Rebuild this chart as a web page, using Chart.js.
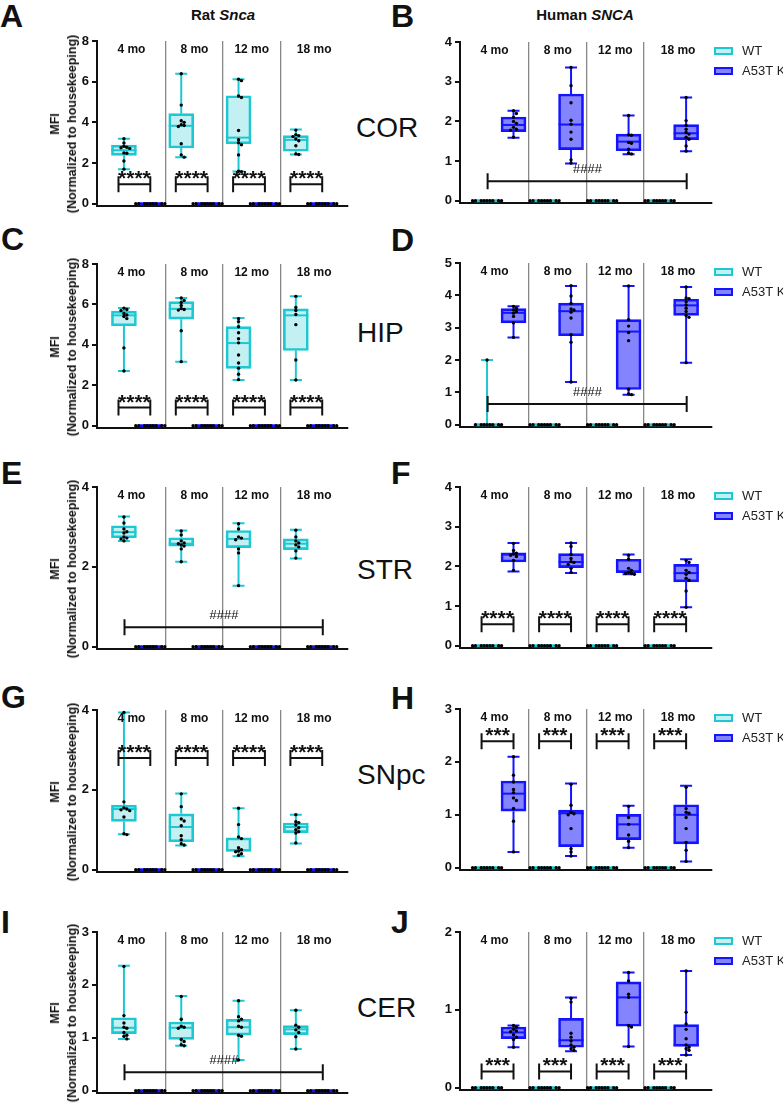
<!DOCTYPE html>
<html>
<head>
<meta charset="utf-8">
<script src="https://cdn.jsdelivr.net/npm/chart.js@4.4.1/dist/chart.umd.min.js"></script>
<style>
  body { margin: 0; background: #fff; }
  #fig { position: relative; width: 783px; height: 1114px; overflow: hidden; font-family: Arial, "Liberation Sans", sans-serif; color: #111; }
  .t { position: absolute; white-space: nowrap; line-height: 1; }
  .letter { font-weight: bold; font-size: 32px; }
  .region { font-size: 28px; }
  .head { font-weight: bold; font-size: 15px; transform: translateX(-50%); }
  .ytitle { position: absolute; font-weight: bold; font-size: 12.5px; text-align: center; line-height: 17px;
            white-space: nowrap; transform: translate(-50%, -50%) rotate(-90deg); }
  canvas { position: absolute; }
</style>
</head>
<body>
<div id="fig">
  <div class="t head" style="left:223px; top:7px">Rat <i>Snca</i></div>
  <div class="t head" style="left:585px; top:7px">Human <i>SNCA</i></div>

  <div class="t letter" style="left:0px; top:0px">A</div>
  <div class="t letter" style="left:391px; top:0px">B</div>
  <div class="t letter" style="left:1px; top:223px">C</div>
  <div class="t letter" style="left:391px; top:224px">D</div>
  <div class="t letter" style="left:1px; top:457px">E</div>
  <div class="t letter" style="left:391px; top:457px">F</div>
  <div class="t letter" style="left:1px; top:681px">G</div>
  <div class="t letter" style="left:391px; top:682px">H</div>
  <div class="t letter" style="left:1px; top:906px">I</div>
  <div class="t letter" style="left:391px; top:906px">J</div>

  <div class="t region" style="left:356px; top:114px">COR</div>
  <div class="t region" style="left:357px; top:319px">HIP</div>
  <div class="t region" style="left:357px; top:556px">STR</div>
  <div class="t region" style="left:357px; top:761px">SNpc</div>
  <div class="t region" style="left:357px; top:994px">CER</div>
</div>

<script>
Chart.defaults.font.family = 'Arial, "Liberation Sans", sans-serif';
Chart.defaults.color = '#111';

// ---- data ----
const ages = ['4 mo', '8 mo', '12 mo', '18 mo'];
const groups = ['WT', 'A53T KI'];

// box stats per age: [min, q1, median, q3, max]
const zeroBox = [0, 0, 0, 0, 0];
const zeroRow = [0, 0, 0, 0, 0, 0, 0, 0, 0];

const ticks8 = [0, 2, 4, 6, 8];
const ticks4by2 = [0, 2, 4];
const ticks4 = [0, 1, 2, 3, 4];
const ticks5 = [0, 1, 2, 3, 4, 5];
const ticks3 = [0, 1, 2, 3];
const ticks2 = [0, 1, 2];

// COR
const corRatWT = [[1.70, 2.38, 2.63, 2.88, 3.20], [2.29, 2.74, 3.83, 4.43, 6.39], [1.58, 2.95, 3.25, 5.31, 6.12], [2.42, 2.58, 3.14, 3.35, 3.65]];
const corRatWTPts = [
  [3.2, 2.99, 2.83, 2.78, 2.75, 2.72, 2.5, 2.48, 2.1, 1.7],
  [6.39, 4.85, 4.08, 4.0, 3.88, 3.85, 3.8, 2.95, 2.4, 2.29],
  [6.12, 6.05, 5.3, 5.22, 3.6, 3.15, 3.0, 2.9, 2.4, 1.6, 1.58],
  [3.62, 3.4, 3.35, 3.3, 3.18, 3.1, 2.85, 2.45, 2.42]];
const corHumKI = [[1.59, 1.74, 1.91, 2.11, 2.27], [0.94, 1.29, 1.92, 2.69, 3.36], [1.17, 1.26, 1.49, 1.68, 2.15], [1.25, 1.54, 1.70, 1.92, 2.60]];
const corHumKIPts = [
  [2.27, 2.2, 2.1, 2.0, 1.95, 1.85, 1.8, 1.78, 1.6],
  [3.36, 2.9, 2.47, 2.03, 1.93, 1.73, 1.55, 1.03, 0.95],
  [2.15, 1.66, 1.65, 1.47, 1.45, 1.3, 1.2, 1.18],
  [2.6, 2.02, 1.9, 1.8, 1.72, 1.68, 1.6, 1.55, 1.38, 1.25]];

// HIP
const hipRatWT = [[2.71, 4.94, 5.46, 5.67, 5.82], [3.17, 5.27, 5.78, 6.14, 6.32], [2.26, 2.84, 4.09, 4.90, 5.33], [2.26, 3.72, 5.46, 5.78, 6.40]];
const hipRatWTPts = [
  [5.82, 5.75, 5.7, 5.55, 5.48, 5.4, 5.3, 3.85, 2.71],
  [6.32, 6.2, 6.1, 5.95, 5.8, 5.75, 5.72, 4.7, 3.17],
  [5.3, 5.15, 4.9, 4.6, 4.3, 4.1, 3.5, 3.1, 2.85, 2.55, 2.28],
  [6.4, 5.85, 5.7, 5.5, 5.0, 3.25, 2.26]];
const hipHumWT = [[0, 0, 0, 0, 2.0], zeroBox, zeroBox, zeroBox];
const hipHumWTPts = [[2.0, 0, 0, 0, 0, 0, 0, 0, 0], zeroRow, zeroRow, zeroRow];
const hipHumKI = [[2.70, 3.15, 3.46, 3.59, 3.66], [1.32, 2.75, 3.51, 3.76, 4.29], [0.93, 1.09, 2.88, 3.25, 4.29], [1.92, 3.38, 3.69, 3.88, 4.26]];
const hipHumKIPts = [
  [3.66, 3.6, 3.55, 3.5, 3.45, 3.35, 3.15, 2.7],
  [4.3, 3.98, 3.75, 3.58, 3.55, 3.48, 3.3, 2.78, 2.55, 1.32],
  [4.29, 3.25, 3.05, 2.85, 2.6, 1.1, 0.95, 0.93],
  [4.26, 3.92, 3.9, 3.8, 3.7, 3.6, 3.5, 3.38, 3.32, 1.92]];

// STR
const strRatWT = [[2.65, 2.73, 2.87, 3.03, 3.26], [2.13, 2.52, 2.58, 2.73, 2.91], [1.53, 2.48, 2.70, 2.91, 3.09], [2.21, 2.43, 2.58, 2.70, 2.93]];
const strRatWTPts = [
  [3.25, 3.1, 2.95, 2.88, 2.85, 2.75, 2.72, 2.7, 2.65],
  [2.9, 2.8, 2.65, 2.6, 2.58, 2.55, 2.52, 2.45, 2.13],
  [3.08, 2.95, 2.75, 2.72, 2.68, 2.45, 2.35, 1.53],
  [2.92, 2.75, 2.65, 2.6, 2.55, 2.5, 2.4, 2.22]];
const strHumKI = [[1.87, 2.11, 2.30, 2.34, 2.59], [1.83, 1.97, 2.11, 2.32, 2.59], [1.80, 1.84, 1.87, 2.18, 2.30], [0.97, 1.61, 1.83, 2.05, 2.18]];
const strHumKIPts = [
  [2.58, 2.4, 2.33, 2.32, 2.28, 2.25, 2.15, 1.9],
  [2.59, 2.5, 2.3, 2.2, 2.12, 2.1, 2.05, 1.95, 1.85],
  [2.28, 2.18, 1.95, 1.9, 1.85, 1.82, 1.82, 1.8],
  [2.15, 2.1, 1.9, 1.85, 1.8, 1.7, 1.65, 1.38, 0.97]];

// SNpc
const snRatWT = [[0.89, 1.21, 1.52, 1.62, 3.94], [0.61, 0.70, 1.07, 1.40, 1.91], [0.34, 0.46, 0.49, 0.80, 1.54], [0.66, 0.93, 1.07, 1.17, 1.38]];
const snRatWTPts = [
  [3.94, 1.7, 1.55, 1.52, 1.5, 1.48, 1.32, 0.9, 0.88],
  [1.9, 1.58, 1.27, 1.22, 1.1, 0.85, 0.75, 0.65, 0.62],
  [1.54, 1.13, 0.82, 0.78, 0.55, 0.5, 0.47, 0.45, 0.4, 0.36],
  [1.38, 1.2, 1.18, 1.12, 1.05, 1.0, 0.95, 0.92, 0.67]];
const snHumKI = [[0.30, 1.07, 1.40, 1.64, 2.10], [0.22, 0.40, 1.03, 1.09, 1.59], [0.38, 0.53, 0.82, 1.01, 1.17], [0.12, 0.45, 1.00, 1.19, 1.55]];
const snHumKIPts = [
  [2.1, 1.75, 1.62, 1.48, 1.42, 1.32, 1.27, 1.12, 0.88, 0.3],
  [1.58, 1.18, 1.05, 1.02, 1.0, 0.74, 0.36, 0.3, 0.22],
  [1.16, 0.95, 0.82, 0.62, 0.5, 0.38],
  [1.52, 1.12, 1.05, 1.03, 0.95, 0.74, 0.48, 0.33, 0.12]];

// CER
const cerRatWT = [[0.98, 1.08, 1.19, 1.38, 2.36], [0.85, 0.97, 1.19, 1.30, 1.79], [0.58, 1.05, 1.20, 1.35, 1.70], [0.79, 1.06, 1.16, 1.23, 1.52]];
const cerRatWTPts = [
  [2.35, 1.42, 1.28, 1.2, 1.18, 1.1, 1.05, 1.03, 0.98],
  [1.78, 1.35, 1.22, 1.2, 1.18, 0.97, 0.93, 0.87, 0.85],
  [1.7, 1.4, 1.35, 1.32, 1.22, 1.2, 1.05, 1.03, 0.58],
  [1.52, 1.24, 1.2, 1.15, 1.1, 1.02, 0.79]];
const cerHumKI = [[0.52, 0.63, 0.71, 0.78, 0.80], [0.47, 0.52, 0.61, 0.89, 1.16], [0.53, 0.79, 1.16, 1.36, 1.48], [0.42, 0.53, 0.55, 0.81, 1.50]];
const cerHumKIPts = [
  [0.8, 0.78, 0.75, 0.73, 0.72, 0.68, 0.65, 0.62, 0.52],
  [1.15, 1.1, 0.7, 0.65, 0.6, 0.55, 0.52, 0.5, 0.48],
  [1.48, 1.37, 1.2, 1.16, 0.8, 0.78, 0.53],
  [1.5, 0.97, 0.82, 0.75, 0.63, 0.55, 0.52, 0.5, 0.48, 0.42]];

// the other genotype sits at zero in every panel
const zeroBoxes = [zeroBox, zeroBox, zeroBox, zeroBox];
const zeroRows = [zeroRow, zeroRow, zeroRow, zeroRow];

// where the significance marks sit (y value)
const corRatSig = 0.96, corHumSig = 0.49;
const hipRatSig = 0.90, hipHumSig = 0.64;
const strRatSig = 0.49, strHumSig = 0.54;
const snRatSig = 2.80, snHumSig = 2.39;
const cerRatSig = 0.35, cerHumSig = 0.21;

// ---- layout ----
const XMIN = -0.7, XMAX = 3.68, DX = 0.23, BOXW = 25;
const wtColor = '#1ec8d2', wtFill = 'rgba(30,200,210,0.27)';
const kiColor = '#1414ff', kiFill = 'rgba(20,20,255,0.52)';

const panels = [
  {col: 0, top: 41, zero: 207, ticks: ticks8, wt: corRatWT, wtPts: corRatWTPts, ki: zeroBoxes, kiPts: zeroRows, sig: {kind: 'pair', text: '****', at: corRatSig}},
  {col: 1, top: 42, zero: 204, ticks: ticks4, wt: zeroBoxes, wtPts: zeroRows, ki: corHumKI, kiPts: corHumKIPts, sig: {kind: 'span', text: '####', at: corHumSig}},
  {col: 0, top: 264, zero: 429, ticks: ticks8, wt: hipRatWT, wtPts: hipRatWTPts, ki: zeroBoxes, kiPts: zeroRows, sig: {kind: 'pair', text: '****', at: hipRatSig}},
  {col: 1, top: 263, zero: 428, ticks: ticks5, wt: hipHumWT, wtPts: hipHumWTPts, ki: hipHumKI, kiPts: hipHumKIPts, sig: {kind: 'span', text: '####', at: hipHumSig}},
  {col: 0, top: 487, zero: 650, ticks: ticks4by2, wt: strRatWT, wtPts: strRatWTPts, ki: zeroBoxes, kiPts: zeroRows, sig: {kind: 'span', text: '####', at: strRatSig}},
  {col: 1, top: 487, zero: 649, ticks: ticks4, wt: zeroBoxes, wtPts: zeroRows, ki: strHumKI, kiPts: strHumKIPts, sig: {kind: 'pair', text: '****', at: strHumSig}},
  {col: 0, top: 710, zero: 873, ticks: ticks4by2, wt: snRatWT, wtPts: snRatWTPts, ki: zeroBoxes, kiPts: zeroRows, sig: {kind: 'pair', text: '****', at: snRatSig}},
  {col: 1, top: 709, zero: 871, ticks: ticks3, wt: zeroBoxes, wtPts: zeroRows, ki: snHumKI, kiPts: snHumKIPts, sig: {kind: 'pair', text: '***', at: snHumSig}},
  {col: 0, top: 932, zero: 1094, ticks: ticks3, wt: cerRatWT, wtPts: cerRatWTPts, ki: zeroBoxes, kiPts: zeroRows, sig: {kind: 'span', text: '####', at: cerRatSig}},
  {col: 1, top: 932, zero: 1091, ticks: ticks2, wt: zeroBoxes, wtPts: zeroRows, ki: cerHumKI, kiPts: cerHumKIPts, sig: {kind: 'pair', text: '***', at: cerHumSig}}
];

// spread equal-ish values sideways like a column scatter
function swarm(vals, center, pxY, pxX) {
  const d = 2.9, placed = [];
  return vals.map(v => {
    const py = v * pxY;
    for (let k = 0; k < 40; k++) {
      const off = k === 0 ? 0 : (k % 2 ? 1 : -1) * Math.ceil(k / 2) * d;
      if (placed.every(p => Math.hypot(p.x - off, p.y - py) >= d)) {
        placed.push({x: off, y: py});
        return {x: center + off / pxX, y: v};
      }
    }
    return {x: center, y: v};
  });
}

const boxParts = {
  id: 'boxParts',
  afterDatasetDraw(chart, args) {
    const ds = chart.data.datasets[args.index];
    if (!ds.stats) return;
    const {x, y} = chart.scales;
    const ctx = chart.ctx;
    ctx.save();
    ctx.strokeStyle = ds.borderColor;
    ds.stats.forEach((s, i) => {
      const cx = x.getPixelForValue(ds.data[i].x);
      const [lo, q1, med, q3, hi] = s.map(v => y.getPixelForValue(v));
      ctx.lineWidth = 2;
      ctx.beginPath();
      ctx.moveTo(cx, lo); ctx.lineTo(cx, q1);
      ctx.moveTo(cx, q3); ctx.lineTo(cx, hi);
      ctx.moveTo(cx - 6, lo); ctx.lineTo(cx + 6, lo);
      ctx.moveTo(cx - 6, hi); ctx.lineTo(cx + 6, hi);
      ctx.stroke();
      ctx.lineWidth = q1 === q3 ? 3 : 2;
      ctx.beginPath();
      ctx.moveTo(cx - BOXW / 2, med); ctx.lineTo(cx + BOXW / 2, med);
      ctx.stroke();
    });
    ctx.restore();
  }
};

const annot = {
  id: 'annot',
  afterDraw(chart) {
    const o = chart.options.plugins.annot;
    const {x, y} = chart.scales;
    const a = chart.chartArea;
    const ctx = chart.ctx;
    ctx.save();
    // age headings, centred between dividers
    const edges = [XMIN, 0.5, 1.5, 2.5, XMAX];
    ctx.fillStyle = '#111';
    ctx.font = 'bold 12px Arial';
    ctx.textAlign = 'center';
    ctx.textBaseline = 'middle';
    ages.forEach((t, i) => ctx.fillText(t, x.getPixelForValue((edges[i] + edges[i + 1]) / 2), a.top + 9));

    // brackets
    ctx.strokeStyle = '#111';
    ctx.lineWidth = 2;
    const bracket = (x1, x2, v, text) => {
      const p1 = x.getPixelForValue(x1), p2 = x.getPixelForValue(x2), py = y.getPixelForValue(v);
      ctx.beginPath();
      ctx.moveTo(p1, py - 8); ctx.lineTo(p1, py + 8);
      ctx.moveTo(p2, py - 8); ctx.lineTo(p2, py + 8);
      ctx.moveTo(p1, py); ctx.lineTo(p2, py);
      ctx.stroke();
      const mid = (p1 + p2) / 2;
      if (text[0] === '*') {
        ctx.font = 'bold 21px Arial';
        ctx.textBaseline = 'alphabetic';
        ctx.fillText(text, mid, py + 1);
      } else {
        ctx.font = 'italic 13px Arial';
        ctx.textBaseline = 'middle';
        ctx.fillText(text, mid, py - 12);
      }
    };
    if (o.sig.kind === 'pair') {
      ages.forEach((_, i) => bracket(i - 0.325, i + DX, o.sig.at, o.sig.text));
    } else {
      bracket(-0.22, 3.24, o.sig.at, o.sig.text);
    }

    // legend
    if (o.legend) {
      const lx = a.right + 3;
      [[wtFill, wtColor], [kiFill, kiColor]].forEach(([f, c], k) => {
        const yy = a.top + 9 + k * 20;
        ctx.fillStyle = f;
        ctx.fillRect(lx, yy - 3, 17, 6);
        ctx.strokeStyle = c;
        ctx.lineWidth = 2;
        ctx.strokeRect(lx, yy - 3, 17, 6);
        ctx.fillStyle = '#222';
        ctx.font = '13px Arial';
        ctx.textAlign = 'left';
        ctx.textBaseline = 'middle';
        ctx.fillText(groups[k], lx + 27, yy);
      });
    }
    ctx.restore();
  }
};

const fig = document.getElementById('fig');

panels.forEach(p => {
  const left = p.col ? 420 : 40, width = p.col ? 363 : 320;
  const padL = p.col ? 8 : 25, padR = p.col ? 71 : 12;
  const yMax = p.ticks[p.ticks.length - 1];
  const pxY = (p.zero - p.top) / yMax;
  const pxX = (left + width - padR - (left + padL + 32)) / (XMAX - XMIN);
  const cTop = p.top - 16;
  const height = p.zero + 2.5 - cTop + 8;

  const cv = document.createElement('canvas');
  cv.width = width;
  cv.height = height;
  cv.style.left = left + 'px';
  cv.style.top = cTop + 'px';
  fig.appendChild(cv);

  if (!p.col) {
    const yt = document.createElement('div');
    yt.className = 'ytitle';
    yt.style.left = '63.5px';
    yt.style.top = ((p.top + p.zero) / 2) + 'px';
    yt.innerHTML = 'MFI<br>(Normalized to housekeeping)';
    fig.appendChild(yt);
  }

  const wtPts = p.wtPts.flatMap((vals, i) => swarm(vals, i - DX, pxY, pxX));
  const kiPts = p.kiPts.flatMap((vals, i) => swarm(vals, i + DX, pxY, pxX));

  new Chart(cv, {
    type: 'bar',
    data: {
      datasets: [
        {type: 'scatter', data: wtPts, order: 1, pointRadius: 1.7, pointHoverRadius: 1.7, backgroundColor: '#000', borderWidth: 0},
        {type: 'scatter', data: kiPts, order: 1, pointRadius: 1.7, pointHoverRadius: 1.7, backgroundColor: '#000', borderWidth: 0},
        {type: 'bar', label: groups[0], stats: p.wt, order: 2,
         data: p.wt.map((s, i) => ({x: i - DX, y: [s[1], s[3]]})),
         backgroundColor: wtFill, borderColor: wtColor, borderWidth: 2, borderSkipped: false,
         barThickness: BOXW, grouped: false},
        {type: 'bar', label: groups[1], stats: p.ki, order: 2,
         data: p.ki.map((s, i) => ({x: i + DX, y: [s[1], s[3]]})),
         backgroundColor: kiFill, borderColor: kiColor, borderWidth: 2, borderSkipped: false,
         barThickness: BOXW, grouped: false}
      ]
    },
    options: {
      responsive: false,
      animation: false,
      events: [],
      layout: {padding: {left: padL, right: padR, top: 16, bottom: 8}},
      plugins: {
        legend: {display: false},
        tooltip: {enabled: false},
        annot: {sig: p.sig, legend: p.col === 1}
      },
      scales: {
        x: {
          type: 'linear', min: XMIN, max: XMAX, offset: false,
          afterBuildTicks: s => { s.ticks = [0.5, 1.5, 2.5].map(v => ({value: v})); },
          afterFit: s => { s.height = 0; },
          border: {display: true, color: '#111', width: 2},
          grid: {offset: false, drawTicks: false, color: '#888', lineWidth: 1.3},
          ticks: {display: false}
        },
        y: {
          min: -2.5 / pxY, max: yMax,
          afterBuildTicks: s => { s.ticks = p.ticks.map(v => ({value: v})); },
          afterFit: s => { s.width = 32; },
          border: {display: true, color: '#111', width: 2},
          grid: {drawOnChartArea: false, drawTicks: true, tickLength: 5, color: '#111', lineWidth: 2},
          ticks: {font: {size: 13, weight: 'bold'}, color: '#111', padding: 3}
        }
      }
    },
    plugins: [boxParts, annot]
  });
});
</script>
</body>
</html>
